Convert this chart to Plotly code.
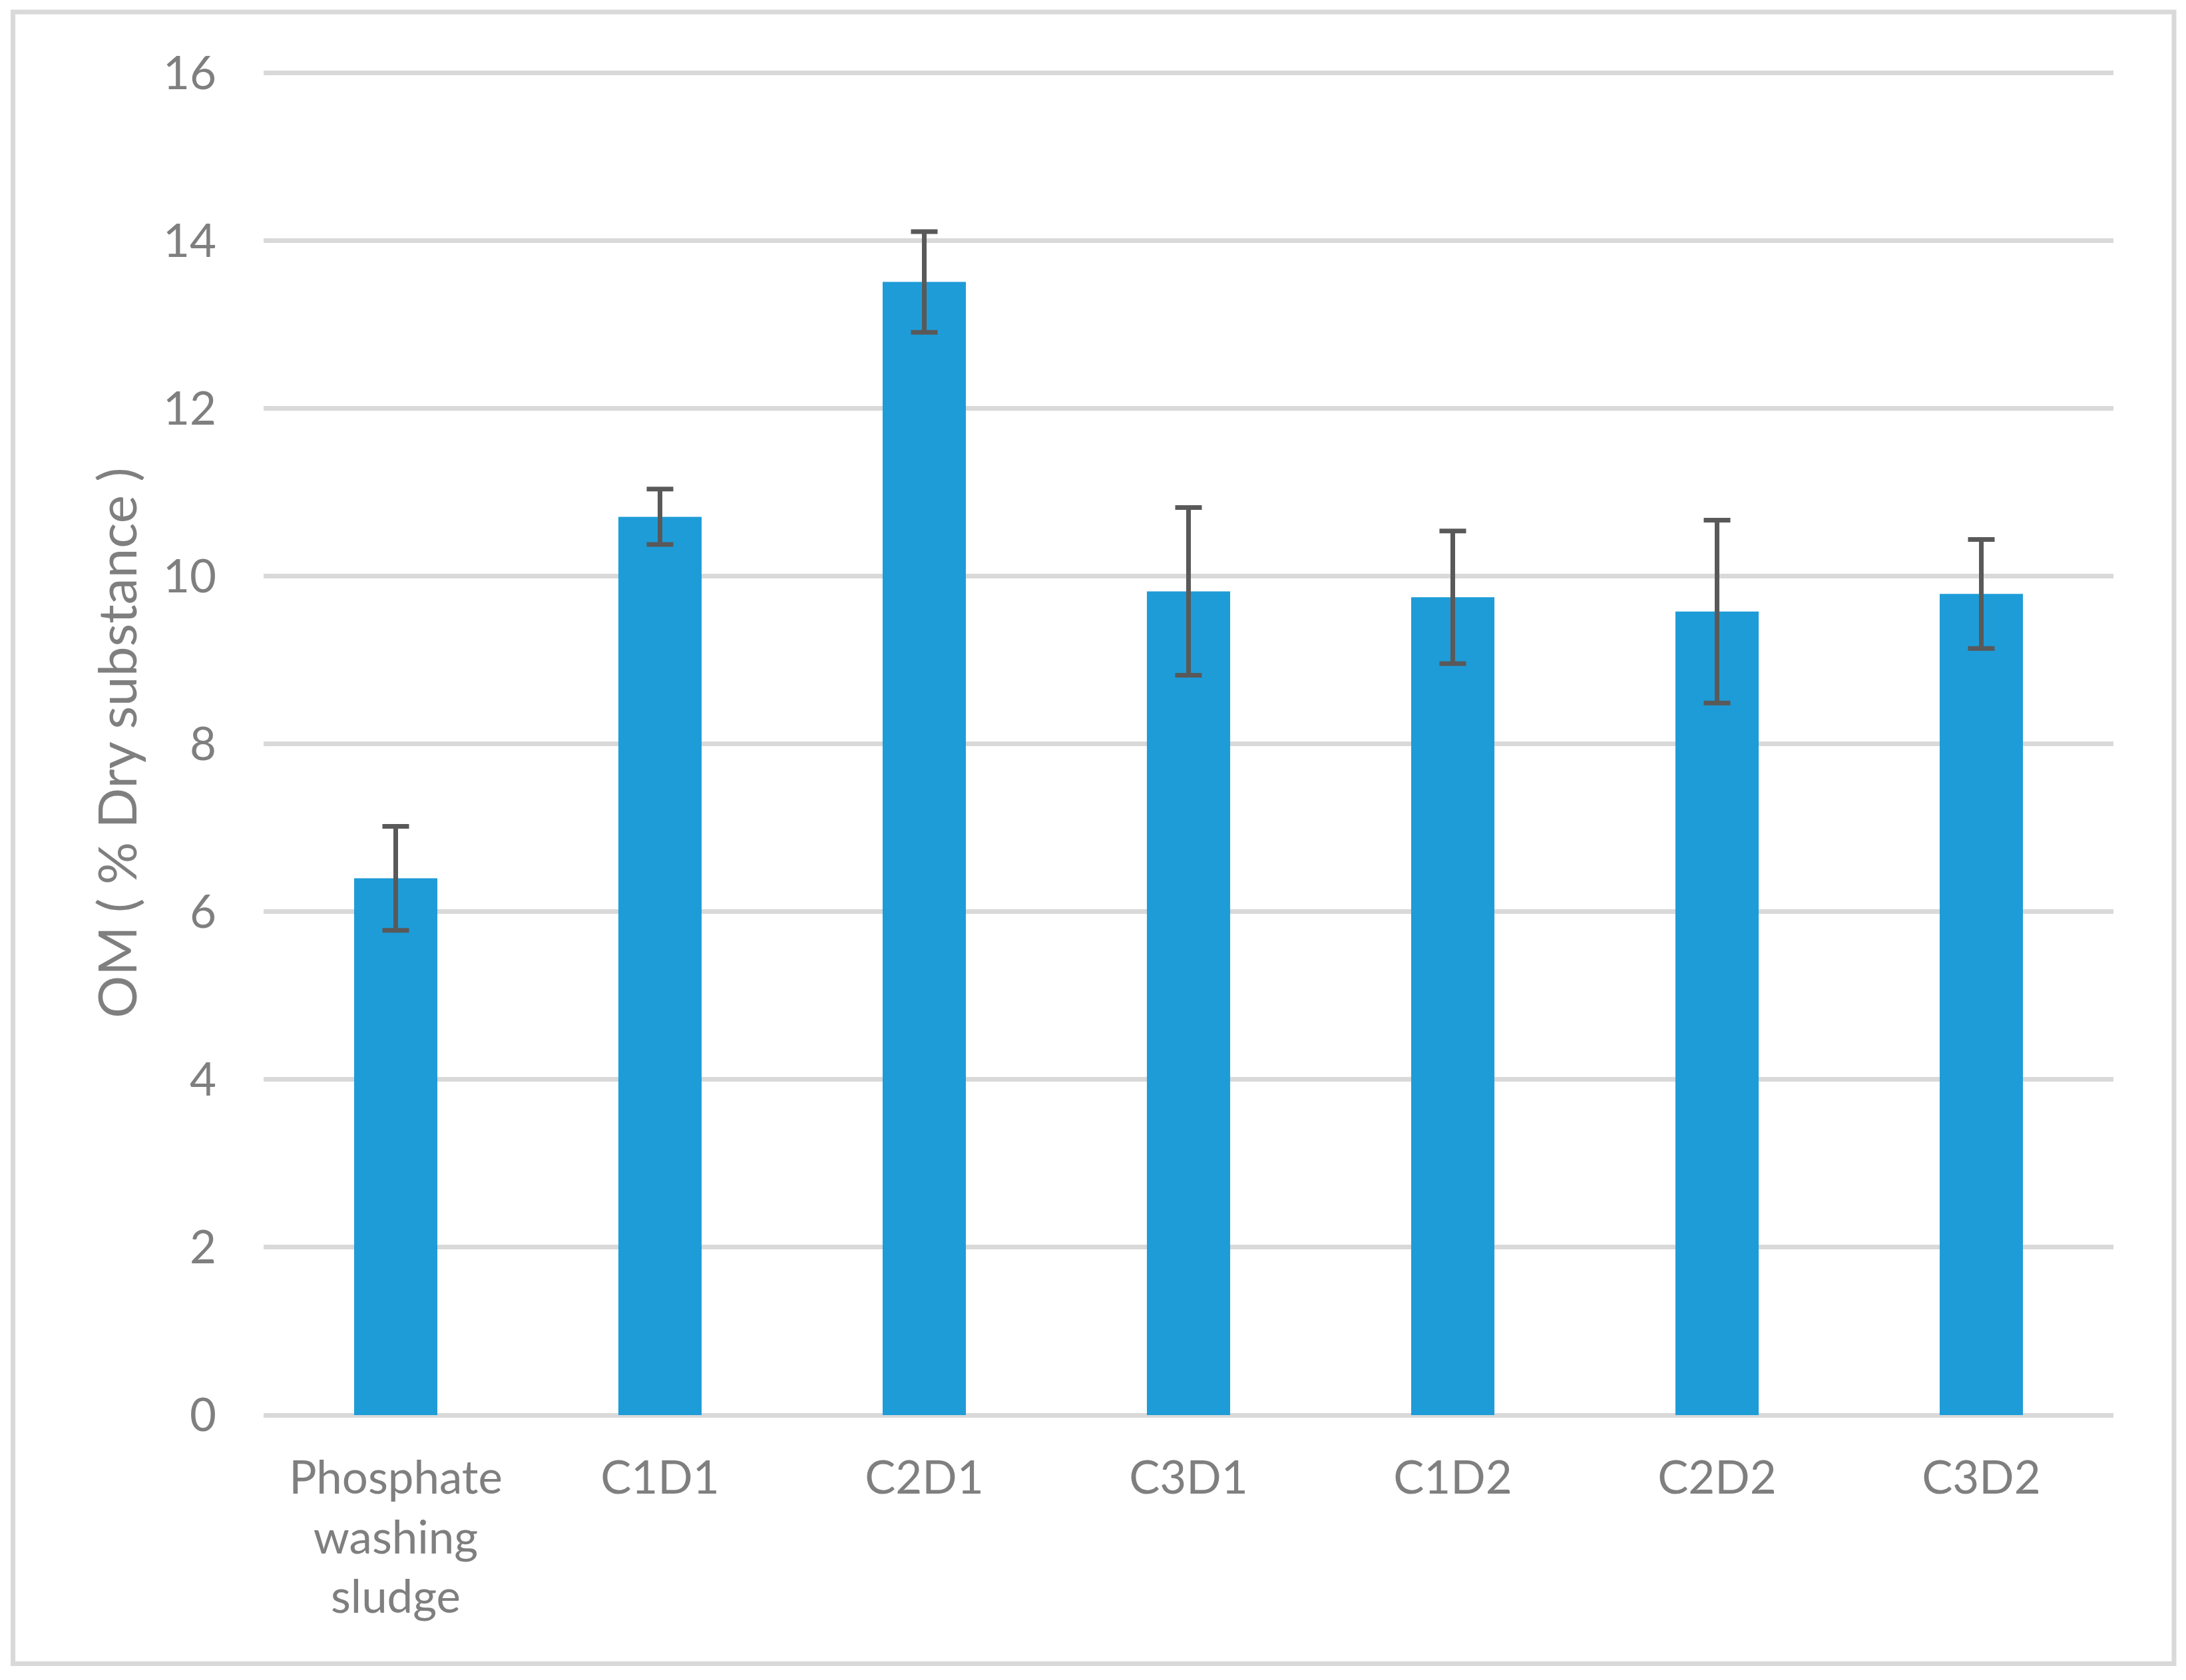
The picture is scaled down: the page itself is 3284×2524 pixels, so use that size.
import plotly.graph_objects as go

# ---- data ----
categories = ["Phosphate<br>washing<br>sludge", "C1D1", "C2D1", "C3D1", "C1D2", "C2D2", "C3D2"]
om_values = [6.40, 10.71, 13.51, 9.82, 9.75, 9.58, 9.79]
om_errors = [0.62, 0.33, 0.60, 1.00, 0.79, 1.09, 0.65]
y_tickvals = [0, 2, 4, 6, 8, 10, 12, 14, 16]
y_title = "OM ( % Dry substance )"

# page body has an 8px default margin; compensate so the picture lands where the reference is
OFF = 8
W, H = 3284, 2524
Y_TOP = 16.03
L = 396 - OFF
R = W - (3175 - OFF)
B = H - (2126.3 - OFF)
T = (109.3 - OFF) - (Y_TOP - 16) * 126.06
pw = W - L - R
ph = H - T - B

FONT = "Lato, 'Open Sans', sans-serif"
GRAY = "#7f7f7f"
GRID = "#d9d9d9"

fig = go.Figure()
fig.add_trace(go.Bar(
    x=categories,
    y=om_values,
    marker=dict(color="#1E9CD8", line=dict(width=0)),
    error_y=dict(type="data", array=om_errors, visible=True,
                 color="#595959", thickness=7, width=20),
    showlegend=False,
))

# outer border (in paper coordinates relative to the plot area)
bx0, bx1, by_top, by_bot = 19.5 - OFF, 3266 - OFF, 17.5 - OFF, 2500 - OFF
x0 = (bx0 - L) / pw
x1 = (bx1 - L) / pw
y1 = (H - B - by_top) / ph
y0 = (H - B - by_bot) / ph
fig.add_shape(type="rect", xref="paper", yref="paper",
              x0=x0, x1=x1, y0=y0, y1=y1,
              line=dict(color=GRID, width=7), fillcolor="rgba(0,0,0,0)", layer="below")

fig.update_layout(
    width=W, height=H,
    margin=dict(l=L, r=R, t=T, b=B, pad=0),
    paper_bgcolor="white",
    plot_bgcolor="white",
    bargap=0.685,
    font=dict(family=FONT, color=GRAY, size=69),
    xaxis=dict(
        showgrid=False, showline=False, zeroline=False,
        ticks="", tickfont=dict(size=69, color=GRAY, family=FONT),
        ticklabelstandoff=48,
    ),
    yaxis=dict(
        range=[0, Y_TOP], tickvals=y_tickvals,
        showgrid=True, gridcolor=GRID, gridwidth=7,
        zeroline=True, zerolinecolor=GRID, zerolinewidth=7,
        showline=False, ticks="",
        tickfont=dict(size=69, color=GRAY, family=FONT),
        ticklabelstandoff=70,
        title=dict(text=y_title, font=dict(size=80, color=GRAY, family=FONT), standoff=12),
    ),
)

fig.write_html("out.html")
